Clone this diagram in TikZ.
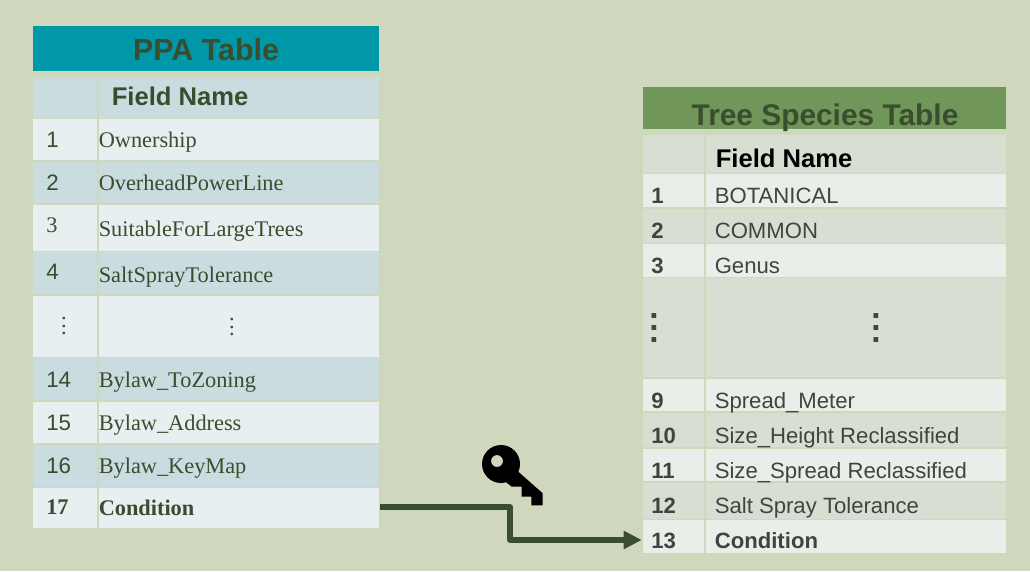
\documentclass[tikz,border=0pt]{standalone}
\usepackage{fontspec}
\setmainfont{Liberation Serif}
\setsansfont{Liberation Sans}
\usetikzlibrary{positioning, fit, arrows.meta}
\definecolor{pageBg}{RGB}{207,216,189}
\definecolor{ppaHead}{RGB}{0,152,168}
\definecolor{ppaBand}{RGB}{202,220,224}
\definecolor{ppaLight}{RGB}{231,239,240}
\definecolor{treeHead}{RGB}{112,150,90}
\definecolor{treeBand}{RGB}{215,223,211}
\definecolor{treeLight}{RGB}{233,239,232}
\definecolor{darkGreen}{RGB}{58,77,46}
\definecolor{treeGrey}{RGB}{64,68,64}
\tikzstyle{band} = [rectangle, inner sep=0pt, outer sep=0pt]
\tikzstyle{label} = [inner sep=0pt, anchor=base west, font=\fontsize{16.75}{20}\selectfont]
\tikzstyle{ppanum} = [label, text=darkGreen, font=\sffamily\fontsize{16.75}{20}\selectfont]
\tikzstyle{ppafield} = [label, text=darkGreen]
\tikzstyle{treenum} = [label, text=treeGrey, font=\sffamily\bfseries\fontsize{16.6}{20}\selectfont]
\tikzstyle{treefield} = [label, text=treeGrey, font=\sffamily\fontsize{16.6}{20}\selectfont]
\tikzstyle{title} = [inner sep=0pt, anchor=base, text=darkGreen, font=\sffamily\bfseries\fontsize{22.4}{26}\selectfont]
\tikzstyle{fieldhead} = [inner sep=0pt, anchor=base west, font=\sffamily\bfseries\fontsize{19.2}{23}\selectfont]
\tikzstyle{ppadots} = [text=darkGreen, inner sep=0pt, font=\fontsize{16.75}{20}\selectfont]
\tikzstyle{treedots} = [text=darkGreen, inner sep=0pt, font=\sffamily\bfseries\fontsize{25}{30}\selectfont]
\tikzstyle{link} = [draw=darkGreen, line width=4.2pt, line join=round, -{Triangle[length=13.5pt, width=13pt]}]
% three dots, one under the other, at the given spacing
\newcommand{\stackdots}[1]{\vbox{\baselineskip=#1 \lineskiplimit=-20pt \hbox{.}\hbox{.}\hbox{.}}}
% name, top, bottom, colour
\newcommand{\ppacells}[4]{
	\node [band, fill=#4, fit={(33,#2) (97,#3)}] (#1a) {};
	\node [band, fill=#4, fit={(98.5,#2) (379,#3)}] (#1b) {};
}
\newcommand{\treecells}[4]{
	\node [band, fill=#4, fit={(643,#2) (704,#3)}] (#1a) {};
	\node [band, fill=#4, fit={(705.5,#2) (1006,#3)}] (#1b) {};
}
% then number base, field base, number, field
\newcommand{\pparow}[8]{
	\ppacells{#1}{#2}{#3}{#4}
	\node [ppanum] (#1n) at (46,#5) {#7};
	\node [ppafield] (#1f) at (98.5,#6) {#8};
}
\newcommand{\treerow}[7]{
	\treecells{#1}{#2}{#3}{#4}
	\node [treenum] (#1n) at (651,#5) {#6};
	\node [treefield] (#1f) at (714.5,#5) {#7};
}

\begin{document}
\begin{tikzpicture}[x=0.75pt, y=-0.75pt]
	\useasboundingbox (0,0) rectangle (1030,571);
	\fill [pageBg] (0,0) rectangle (1030,571);

	% PPA table
	\node [band, fill=ppaHead, fit={(33,26) (379,71)}] (PHead) {};
	\node [title, font=\sffamily\bfseries\fontsize{22.8}{26}\selectfont] (PTitle) at (206,60) {PPA Table};
	\ppacells{P0}{77}{118}{ppaBand}
	\node [fieldhead, text=darkGreen] (PField) at (111.5,105) {Field Name};
	\pparow{P1}{119}{160}{ppaLight}{147}{147}{1}{Ownership}
	\pparow{P2}{162}{203}{ppaBand}{190}{190}{2}{OverheadPowerLine}
	\pparow{P3}{205}{251}{ppaLight}{232}{236}{\rmfamily 3}{SuitableForLargeTrees}
	\pparow{P4}{252}{294}{ppaBand}{279}{282}{4}{SaltSprayTolerance}
	\ppacells{P5}{296}{357}{ppaLight}
	\node [ppadots] (PDotsA) at (64,326) {\stackdots{5.6pt}};
	\node [ppadots] (PDotsB) at (232,327) {\stackdots{5.6pt}};
	\pparow{P14}{358}{400}{ppaBand}{387}{387}{14}{Bylaw\_ToZoning}
	\pparow{P15}{402}{443}{ppaLight}{430}{430}{15}{Bylaw\_Address}
	\pparow{P16}{445}{487}{ppaBand}{473}{473}{16}{Bylaw\_KeyMap}
	\pparow{P17}{488}{528}{ppaLight}{514}{515}{\rmfamily\bfseries 17}{\textbf{Condition}}

	% Tree species table
	\node [band, fill=treeHead, fit={(643,87) (1006,129)}] (THead) {};
	\node [title] (TTitle) at (825,125) {Tree Species Table};
	\treecells{T0}{135}{173}{treeBand}
	\node [fieldhead, text=black] (TField) at (715.5,167) {Field Name};
	\treerow{T1}{174}{207}{treeLight}{203}{1}{BOTANICAL}
	\treerow{T2}{209}{243}{treeBand}{238}{2}{COMMON}
	\treerow{T3}{244}{277}{treeLight}{273}{3}{Genus}
	\treecells{T4}{278}{377}{treeBand}
	\node [treedots] (TDotsA) at (654,328) {\stackdots{9pt}};
	\node [treedots] (TDotsB) at (876,328) {\stackdots{9pt}};
	\treerow{T9}{379}{411}{treeLight}{408}{9}{Spread\_Meter}
	\treerow{T10}{413}{447}{treeBand}{443}{10}{Size\_Height Reclassified}
	\treerow{T11}{449}{481}{treeLight}{478}{11}{Size\_Spread Reclassified}
	\treerow{T12}{483}{519}{treeBand}{513}{12}{Salt Spray Tolerance}
	\treerow{T13}{520}{553}{treeLight}{548}{13}{\textbf{Condition}}

	% Join between the tables
	\coordinate (Knee) at (510,507);
	\draw [link] ([xshift=0.75pt, yshift=0.75pt]P17b.east) -- (Knee) |- ([yshift=-2.6pt, xshift=-1pt]T13a.west);

	% Key
	\fill [black, even odd rule] (501,464) circle (19) (497,461) circle (6);
	\fill [black] (518.3,471.7) -- (542.7,493.3) -- (542.7,505.3) -- (531.3,505.3) -- (531.3,496.7) -- (521.7,496.7) -- (521.7,486.7) -- (511.7,486.7) -- (503.3,480) -- cycle;
\end{tikzpicture}
\end{document}
